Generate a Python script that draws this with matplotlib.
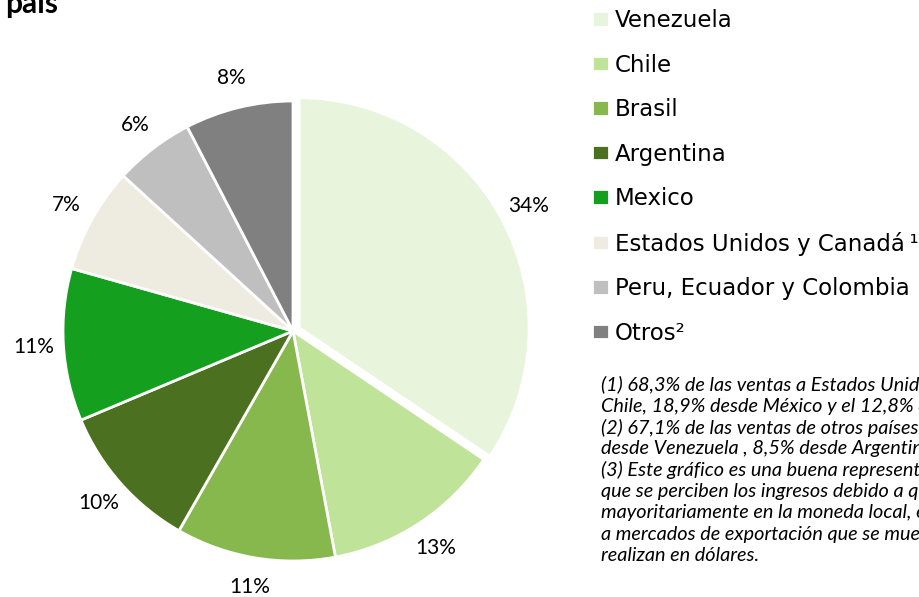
import matplotlib
matplotlib.use("Agg")
import matplotlib.pyplot as plt

# ventas por pais (%)
paises = ["Venezuela", "Chile", "Brasil", "Argentina", "Mexico",
          "Estados Unidos y Canadá\u2009\u00b9", "Peru, Ecuador y Colombia", "Otros\u00b2"]
ventas = [34.4, 12.6, 11.2, 10.4, 10.7, 7.4, 5.6, 7.6]
colores = ["#E8F5DC", "#C0E39A", "#86B84E", "#4A7020", "#14A01E",
           "#EEECE1", "#BFBFBF", "#808080"]
explode = [0.03, 0, 0, 0, 0, 0, 0, 0]

notas = [
    "(1) 68,3% de las ventas a Estados Unidos y Canadá se realizan desde",
    "Chile, 18,9% desde México y el 12,8% desde Brasil.",
    "(2) 67,1% de las ventas de otros países se realizan",
    "desde Venezuela , 8,5% desde Argentina",
    "(3) Este gráfico es una buena representación de la moneda en la",
    "que se perciben los ingresos debido a que las ventas se realizan",
    "mayoritariamente en la moneda local, exceptuando las ventas",
    "a mercados de exportación que se muestran en la nota (1), que se",
    "realizan en dólares.",
]

W, H = 919, 597
fig = plt.figure(figsize=(W / 100, H / 100), dpi=100)

# pie centre ~ (293, 331) px, radius ~230 px
cx, cy, r = 293, 331, 230
lim = 1.3
side = 2 * lim * r
ax = fig.add_axes([(cx - side / 2) / W, (H - cy - side / 2) / H, side / W, side / H])

wedges, _, autotexts = ax.pie(
    ventas, colors=colores, explode=explode, startangle=90, counterclock=False,
    autopct="%1.0f%%", pctdistance=1.13,
    wedgeprops=dict(edgecolor="white", linewidth=2),
    textprops=dict(fontsize=15, family="Lato", color="black"))
ax.set_xlim(-lim, lim)
ax.set_ylim(-lim, lim)
ax.set_aspect("equal")
ax.axis("off")

fig.text(5 / W, 1 - 13 / H, "país", fontsize=21.5, fontweight="bold",
         family="Lato", va="baseline", ha="left")

leg = fig.legend(wedges, paises, loc="upper left",
                 bbox_to_anchor=(592 / W, 1 - 9 / H),
                 frameon=False, prop=dict(family="DejaVu Sans", size=16.5),
                 handlelength=0.74, handleheight=0.66, handletextpad=0.25,
                 labelspacing=0.94, borderaxespad=0, borderpad=0)

for i, linea in enumerate(notas):
    fig.text(601 / W, 1 - (385 + 21.3 * i) / H, linea, fontsize=14.3,
             family="Lato", style="italic", va="center", ha="left")

fig.savefig("out.png", dpi=100)
